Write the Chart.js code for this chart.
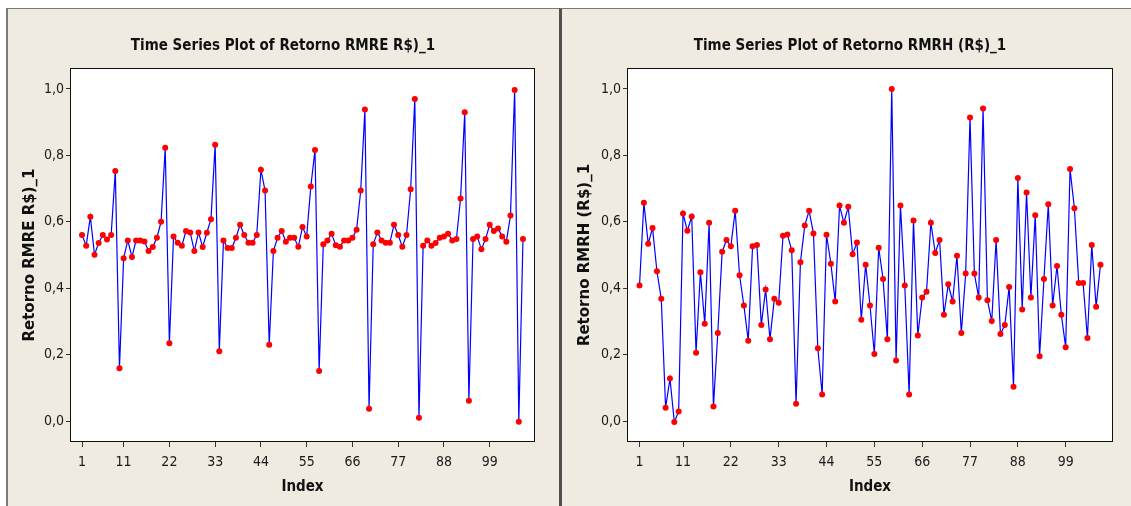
<!DOCTYPE html>
<html>
<head>
<meta charset="utf-8">
<script src="https://cdn.jsdelivr.net/npm/chart.js@4/dist/chart.umd.min.js"></script>
<style>
  html, body { margin: 0; padding: 0; background: #ffffff; overflow: hidden; }
  body { width: 1131px; height: 506px; position: relative; }
  .panel { position: absolute; top: 8px; height: 498px; box-sizing: border-box;
           background: #EFEBE1; border-top: 1px solid #7a7a7a; }
  #panelL { left: 6px; width: 553px; border-left: 2px solid #7a7a7a; }
  #panelR { left: 559px; width: 572px; border-left: 3px solid #505050; }
  canvas { position: absolute; top: 0; }
  #chartL { left: 8px; }
  #chartR { left: 560px; }
</style>
</head>
<body>
<div class="panel" id="panelL"></div>
<div class="panel" id="panelR"></div>
<canvas id="chartL" width="550" height="506"></canvas>
<canvas id="chartR" width="571" height="506"></canvas>
<script>
// Monthly returns, observations 1..107
const rmreValues = [
  0.560, 0.528, 0.615, 0.501, 0.536, 0.560, 0.547, 0.560, 0.753, 0.159,
  0.490, 0.544, 0.494, 0.544, 0.544, 0.541, 0.512, 0.524, 0.552, 0.600,
  0.823, 0.234, 0.556, 0.537, 0.528, 0.572, 0.568, 0.512, 0.568, 0.524,
  0.567, 0.608, 0.832, 0.210, 0.544, 0.521, 0.521, 0.552, 0.591, 0.560,
  0.537, 0.537, 0.560, 0.757, 0.694, 0.230, 0.512, 0.552, 0.572, 0.540,
  0.552, 0.552, 0.525, 0.584, 0.556, 0.706, 0.816, 0.151, 0.532, 0.544,
  0.564, 0.529, 0.525, 0.544, 0.544, 0.552, 0.576, 0.694, 0.938, 0.037,
  0.532, 0.568, 0.544, 0.537, 0.537, 0.591, 0.560, 0.525, 0.560, 0.698,
  0.970, 0.010, 0.528, 0.544, 0.528, 0.536, 0.552, 0.556, 0.564, 0.544,
  0.548, 0.670, 0.930, 0.061, 0.548, 0.556, 0.517, 0.548, 0.591, 0.572,
  0.580, 0.556, 0.540, 0.619, 0.997, -0.002, 0.548
];

const rmrhValues = [
  0.408, 0.657, 0.534, 0.581, 0.451, 0.368, 0.040, 0.128, -0.003, 0.029,
  0.625, 0.573, 0.616, 0.206, 0.448, 0.293, 0.597, 0.044, 0.265, 0.510,
  0.545, 0.526, 0.633, 0.439, 0.348, 0.242, 0.526, 0.530, 0.289, 0.396,
  0.246, 0.368, 0.356, 0.558, 0.562, 0.514, 0.052, 0.478, 0.589, 0.633,
  0.565, 0.219, 0.080, 0.561, 0.474, 0.360, 0.649, 0.597, 0.645, 0.502,
  0.538, 0.305, 0.471, 0.348, 0.202, 0.522, 0.428, 0.246, 1.000, 0.182,
  0.649, 0.408, 0.080, 0.604, 0.258, 0.372, 0.389, 0.597, 0.506, 0.545,
  0.320, 0.412, 0.360, 0.498, 0.265, 0.444, 0.914, 0.444, 0.372, 0.941,
  0.364, 0.301, 0.545, 0.262, 0.289, 0.404, 0.103, 0.732, 0.336, 0.688,
  0.372, 0.620, 0.195, 0.428, 0.653, 0.348, 0.467, 0.320, 0.222, 0.759,
  0.641, 0.416, 0.416, 0.250, 0.530, 0.344, 0.471
];

const indexTicks = [1, 11, 22, 33, 44, 55, 66, 77, 88, 99];
const valueTicks = [0, 0.2, 0.4, 0.6, 0.8, 1.0];
const valueTickLabels = ['0,0', '0,2', '0,4', '0,6', '0,8', '1,0'];

const titleL = 'Time Series Plot of Retorno RMRE R$)_1';
const titleR = 'Time Series Plot of Retorno RMRH (R$)_1';
const yLabelL = 'Retorno RMRE R$)_1';
const yLabelR = 'Retorno RMRH (R$)_1';
const xLabel = 'Index';

const narrow = "'Liberation Sans Narrow', 'DejaVu Sans Condensed', 'DejaVu Sans', sans-serif";
const wide = "'DejaVu Sans', 'Liberation Sans', sans-serif";

// White plot region with a thin dark frame
const plotFrame = {
  id: 'plotFrame',
  beforeDraw(chart) {
    const a = chart.chartArea, ctx = chart.ctx;
    ctx.save();
    ctx.fillStyle = '#ffffff';
    ctx.fillRect(a.left, a.top, a.right - a.left, a.bottom - a.top);
    ctx.restore();
  },
  afterDraw(chart) {
    const a = chart.chartArea, ctx = chart.ctx;
    ctx.save();
    ctx.strokeStyle = '#111111';
    ctx.lineWidth = 1;
    ctx.strokeRect(a.left - 0.5, a.top - 0.5, a.right - a.left + 1, a.bottom - a.top + 1);
    ctx.restore();
  }
};

// Centre the title over the whole graph panel rather than the padded layout box
const panelTitle = {
  id: 'panelTitle',
  afterLayout(chart, args, opts) {
    const t = chart.titleBlock;
    if (!t) return;
    t.left = 0;
    t.right = opts.center * 2;
    t.width = t.right;
  }
};

function makeChart(canvasId, values, title, yLabel, geom) {
  const points = values.map((v, i) => ({ x: i + 1, y: v }));
  return new Chart(document.getElementById(canvasId), {
    type: 'line',
    data: {
      datasets: [{
        data: points,
        borderColor: '#0000FF',
        borderWidth: 1.2,
        pointRadius: 3,
        pointHoverRadius: 3,
        pointBorderWidth: 0,
        pointBackgroundColor: '#FF0000',
        pointBorderColor: '#FF0000',
        tension: 0,
        clip: false
      }]
    },
    options: {
      responsive: false,
      animation: false,
      events: [],
      layout: { padding: { top: 39, right: geom.padRight, bottom: 0, left: 0 } },
      plugins: {
        legend: { display: false },
        tooltip: { enabled: false },
        title: {
          display: true,
          text: title,
          color: '#111111',
          font: { family: narrow, size: 15, weight: 'bold', lineHeight: 1 },
          padding: { top: 0, bottom: 15 }
        },
        panelTitle: { center: geom.titleCenter }
      },
      scales: {
        x: {
          type: 'linear',
          min: -1.65,
          max: 109.65,
          afterBuildTicks(scale) { scale.ticks = indexTicks.map(v => ({ value: v })); },
          afterFit(scale) { scale.height = 65; },
          ticks: {
            autoSkip: false,
            maxRotation: 0,
            color: '#1a1a1a',
            padding: 7,
            font: { family: narrow, size: 14 },
            callback: v => String(v)
          },
          grid: { display: true, drawOnChartArea: false, drawTicks: true, tickLength: 6, color: '#333333' },
          border: { display: false },
          title: {
            display: true,
            text: xLabel,
            color: '#111111',
            font: { family: narrow, size: 15, weight: 'bold', lineHeight: 1.2 },
            padding: { top: 0, bottom: 10 }
          }
        },
        y: {
          type: 'linear',
          min: -0.06,
          max: 1.06,
          afterBuildTicks(scale) { scale.ticks = valueTicks.map(v => ({ value: v })); },
          afterFit(scale) { scale.width = geom.yWidth; },
          ticks: {
            color: '#1a1a1a',
            padding: 2,
            font: { family: narrow, size: 14 },
            callback: v => valueTickLabels[valueTicks.findIndex(t => Math.abs(t - v) < 1e-9)]
          },
          grid: { display: true, drawOnChartArea: false, drawTicks: true, tickLength: 5, color: '#333333' },
          border: { display: false },
          title: {
            display: true,
            text: yLabel,
            color: '#111111',
            font: { family: wide, size: 15, weight: 'bold', lineHeight: 1.2 },
            padding: { top: geom.yTitlePad, bottom: 0 }
          }
        }
      }
    },
    plugins: [plotFrame, panelTitle]
  });
}

makeChart('chartL', rmreValues, titleL, yLabelL,
  { padRight: 24, yWidth: 63, yTitlePad: 13, titleCenter: 275 });
makeChart('chartR', rmrhValues, titleR, yLabelR,
  { padRight: 19, yWidth: 68, yTitlePad: 16, titleCenter: 290 });
</script>
</body>
</html>
